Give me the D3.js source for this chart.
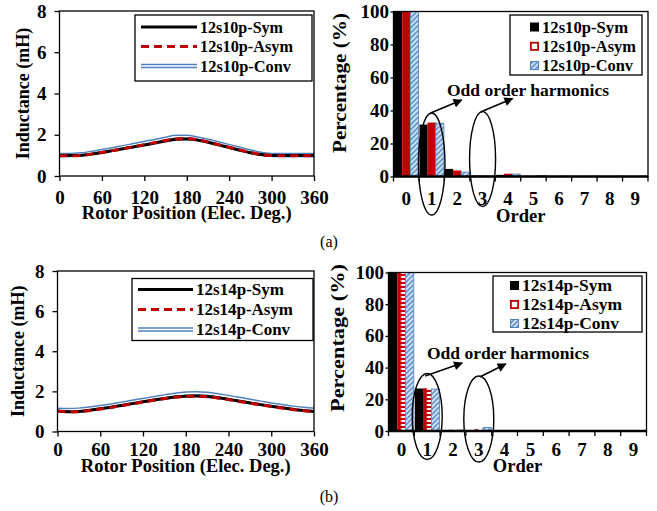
<!DOCTYPE html>
<meta charset="utf-8">
<style>
    body { margin: 0; background: #ffffff; }
    text {
        font-family: "Liberation Serif", "Times New Roman", serif;
        font-weight: bold;
        fill: #000000;
    }
    .tick text { font-size: 19px; }
    .title { font-size: 18.5px; }
    .ytitle { font-size: 18px; }
    .note { font-size: 17.5px; }
    .caption { font-size: 16px; font-weight: normal; }
</style>
<svg width="657" height="511"></svg>
<script src="https://cdn.jsdelivr.net/npm/d3@7"></script>
<script>

    // rotor position (elec. deg.)
    var angles = [0, 15, 30, 45, 60, 75, 90, 105, 120, 135, 150, 165, 180, 195, 210, 225, 240, 255, 270, 285, 300, 315, 330, 345, 360];

    // inductance (mH), 12s10p
    var ind10Sym = [1.00, 1.00, 1.00, 1.06, 1.14, 1.23, 1.32, 1.41, 1.50, 1.60, 1.70, 1.78, 1.80, 1.75, 1.64, 1.51, 1.38, 1.25, 1.13, 1.04, 1.00, 1.00, 1.00, 1.00, 1.00];
    var ind10Asym = [0.98, 0.98, 1.00, 1.06, 1.14, 1.23, 1.32, 1.42, 1.52, 1.62, 1.72, 1.80, 1.82, 1.76, 1.65, 1.52, 1.39, 1.26, 1.14, 1.04, 0.99, 0.98, 0.98, 0.98, 0.98];
    var ind10Conv = [1.02, 1.02, 1.05, 1.12, 1.21, 1.30, 1.40, 1.50, 1.60, 1.70, 1.81, 1.90, 1.90, 1.82, 1.71, 1.58, 1.45, 1.32, 1.19, 1.08, 1.02, 1.02, 1.02, 1.02, 1.02];

    // inductance (mH), 12s14p
    var ind14Sym = [1.02, 0.99, 1.00, 1.06, 1.13, 1.21, 1.30, 1.39, 1.48, 1.57, 1.65, 1.72, 1.76, 1.77, 1.74, 1.68, 1.60, 1.51, 1.42, 1.34, 1.26, 1.18, 1.11, 1.05, 1.00];
    var ind14Asym = [1.01, 0.98, 0.99, 1.05, 1.12, 1.20, 1.29, 1.38, 1.47, 1.56, 1.64, 1.71, 1.75, 1.76, 1.73, 1.67, 1.59, 1.50, 1.41, 1.33, 1.25, 1.17, 1.10, 1.04, 0.99];
    var ind14Conv = [1.08, 1.07, 1.09, 1.15, 1.22, 1.30, 1.39, 1.48, 1.57, 1.66, 1.75, 1.83, 1.89, 1.91, 1.88, 1.81, 1.72, 1.63, 1.53, 1.44, 1.35, 1.27, 1.19, 1.13, 1.08];

    // harmonic order and percentage (%)
    var orders = ["0", "1", "2", "3", "4", "5", "6", "7", "8", "9"];
    var harm10Sym = [100, 31.5, 4.6, 0.6, 1.0, 0.2, 0.1, 0.1, 0.1, 0.1];
    var harm10Asym = [100, 32.7, 3.7, 0.5, 1.7, 0.3, 0.2, 0.2, 0.2, 0.2];
    var harm10Conv = [100, 32.3, 2.7, 0.3, 1.5, 0.5, 0.2, 0.2, 0.2, 0.2];
    var harm14Sym = [100, 26.8, 0.6, 0.6, 0.1, 0.1, 0.1, 0.1, 0.1, 0.1];
    var harm14Asym = [100, 27.0, 0.8, 1.1, 0.2, 0.2, 0.2, 0.2, 0.2, 0.2];
    var harm14Conv = [100, 26.5, 0.6, 2.2, 0.1, 0.1, 0.1, 0.1, 0.1, 0.1];

    var xTicks = [0, 60, 120, 180, 240, 300, 360];
    var yTicksL = [0, 2, 4, 6, 8];
    var yTicksP = [0, 20, 40, 60, 80, 100];
    var kinds = ["Sym", "Asym", "Conv"];

    var RED = "#c00000", BLUE = "#4f81bd";

    var svg = d3.select("svg");
    var defs = svg.append("defs");

    // arrow head
    defs.append("marker")
        .attr("id", "arrow")
        .attr("viewBox", "0 0 10 10")
        .attr("refX", 9).attr("refY", 5)
        .attr("markerWidth", 11).attr("markerHeight", 9)
        .attr("markerUnits", "userSpaceOnUse")
        .attr("orient", "auto")
        .append("path").attr("d", "M0,0 L10,5 L0,10 z").attr("fill", "#000");

    // diagonal hatch for Conv
    var hatch = defs.append("pattern")
        .attr("id", "hatch")
        .attr("patternUnits", "userSpaceOnUse")
        .attr("width", 3.6).attr("height", 3.6)
        .attr("patternTransform", "rotate(45)");
    hatch.append("rect").attr("width", 3.6).attr("height", 3.6).attr("fill", "#6a98d4");
    hatch.append("line").attr("x1", 0.9).attr("x2", 0.9).attr("y1", 0).attr("y2", 3.6)
        .attr("stroke", "#ffffff").attr("stroke-width", 1.3);

    function styleAxis(g) {
        g.attr("font-family", null).attr("font-size", null);
        g.selectAll("line").attr("stroke", "#000").attr("stroke-width", 1.3);
        g.select(".domain").remove();
    }

    // legend label, held to the width
    function legendText(lg, x, y, size, len, label) {
        lg.append("text").attr("x", x).attr("y", y)
            .style("font-size", size + "px")
            .attr("textLength", len).attr("lengthAdjust", "spacingAndGlyphs")
            .text(label);
    }

    function drawLineChart(o) {
        var x = d3.scaleLinear().domain([0, 360]).range([o.left, o.right]);
        var y = d3.scaleLinear().domain([0, 8]).range([o.bottom, o.top]);
        var g = svg.append("g");

        var line = d3.line()
            .x(function (d, i) { return x(angles[i]); })
            .y(function (d) { return y(d); })
            .curve(d3.curveMonotoneX);

        g.append("path").attr("d", line(o.conv)).attr("fill", "none")
            .attr("stroke", BLUE).attr("stroke-width", 4.5);
        g.append("path").attr("d", line(o.conv)).attr("fill", "none")
            .attr("stroke", "#fff").attr("stroke-width", 1.6);
        g.append("path").attr("d", line(o.sym)).attr("fill", "none")
            .attr("stroke", "#000").attr("stroke-width", 3);
        g.append("path").attr("d", line(o.asym)).attr("fill", "none")
            .attr("stroke", RED).attr("stroke-width", 3).attr("stroke-dasharray", "8,5");

        g.append("rect")
            .attr("x", o.left).attr("y", o.top)
            .attr("width", o.right - o.left).attr("height", o.bottom - o.top)
            .attr("fill", "none").attr("stroke", "#000").attr("stroke-width", 1.3);

        g.append("g").attr("transform", "translate(0," + o.bottom + ")")
            .call(d3.axisBottom(x).tickValues(xTicks).tickSize(5).tickPadding(o.tp))
            .call(styleAxis);
        g.append("g").attr("transform", "translate(" + o.left + ",0)")
            .call(d3.axisLeft(y).tickValues(yTicksL).tickSize(5).tickPadding(8))
            .call(styleAxis);

        g.append("text").attr("class", "title")
            .attr("x", (o.left + o.right) / 2).attr("y", o.bottom + o.xty)
            .attr("text-anchor", "middle")
            .text("Rotor Position (Elec. Deg.)");
        g.append("text").attr("class", "ytitle")
            .attr("transform", "translate(" + o.ytx + "," + (o.top + o.bottom) / 2 + ") rotate(-90)")
            .attr("text-anchor", "middle")
            .text("Inductance (mH)");

        // legend
        var lg = g.append("g");
        var b = o.legend;
        lg.append("rect").attr("x", b.x).attr("y", b.y).attr("width", b.w).attr("height", b.h)
            .attr("fill", "#fff").attr("stroke", "#000").attr("stroke-width", 1.3);
        kinds.forEach(function (k, i) {
            var yy = b.y + b.r0 + i * b.dy;
            var x1 = b.x + 6, x2 = b.x + b.lw;
            if (k === "Conv") {
                lg.append("line").attr("x1", x1).attr("x2", x2).attr("y1", yy).attr("y2", yy)
                    .attr("stroke", BLUE).attr("stroke-width", 4.5);
                lg.append("line").attr("x1", x1).attr("x2", x2).attr("y1", yy).attr("y2", yy)
                    .attr("stroke", "#fff").attr("stroke-width", 1.6);
            } else {
                lg.append("line").attr("x1", x1).attr("x2", x2).attr("y1", yy).attr("y2", yy)
                    .attr("stroke", k === "Sym" ? "#000" : RED).attr("stroke-width", 3)
                    .attr("stroke-dasharray", k === "Asym" ? "8,5" : null);
            }
            legendText(lg, x2 + 3, yy + 5.5, b.fs, b.tl[i], o.name + "-" + k);
        });
    }

    function drawBarChart(o) {
        var x0 = d3.scaleBand().domain(orders).range([o.left, o.right])
            .paddingInner(0.04).paddingOuter(0.02);
        var x1 = d3.scaleBand().domain(kinds).range([0, x0.bandwidth()]);
        var y = d3.scaleLinear().domain([0, 100]).range([o.bottom, o.top]);
        var g = svg.append("g");
        var half = x0.step() * x0.paddingInner() / 2;

        // striped fill for Asym, one tile per category band
        var pid = "stripe" + o.name;
        var pat = defs.append("pattern")
            .attr("id", pid)
            .attr("patternUnits", "userSpaceOnUse")
            .attr("x", o.left).attr("y", o.bottom)
            .attr("width", x0.step()).attr("height", 4);
        pat.append("rect").attr("width", x0.step()).attr("height", 4).attr("fill", RED);
        pat.append("rect")
            .attr("x", half + x1("Asym") + 1.8).attr("y", 1)
            .attr("width", x1.bandwidth() - 3.6).attr("height", 2)
            .attr("fill", "#fff");

        var rows = orders.map(function (d, i) {
            return { order: d, Sym: o.sym[i], Asym: o.asym[i], Conv: o.conv[i] };
        });

        var grp = g.selectAll(".grp").data(rows).enter().append("g")
            .attr("transform", function (d) { return "translate(" + x0(d.order) + ",0)"; });

        grp.selectAll("rect")
            .data(function (d) { return kinds.map(function (k) { return { k: k, v: d[k] }; }); })
            .enter().append("rect")
            .attr("x", function (d) { return x1(d.k); })
            .attr("y", function (d) { return y(d.v); })
            .attr("width", x1.bandwidth())
            .attr("height", function (d) { return o.bottom - y(d.v); })
            .attr("fill", function (d) {
                return d.k === "Sym" ? "#000" : d.k === "Asym" ? "url(#" + pid + ")" : "url(#hatch)";
            })
            .attr("stroke", function (d) { return d.k === "Conv" ? BLUE : "none"; })
            .attr("stroke-width", 0.8);

        // frame
        g.append("rect")
            .attr("x", o.left).attr("y", o.top)
            .attr("width", o.right - o.left).attr("height", o.bottom - o.top)
            .attr("fill", "none").attr("stroke", "#000").attr("stroke-width", 1.3);
        g.append("line").attr("x1", o.left).attr("x2", o.right)
            .attr("y1", o.bottom).attr("y2", o.bottom)
            .attr("stroke", "#000").attr("stroke-width", 2.4);

        // category boundary ticks
        var bounds = orders.map(function (d) { return x0(d) - half; }).concat([o.right]);
        g.selectAll(".btick").data(bounds).enter().append("line")
            .attr("x1", function (d) { return d; }).attr("x2", function (d) { return d; })
            .attr("y1", o.bottom).attr("y2", o.bottom + 5)
            .attr("stroke", "#000").attr("stroke-width", 1.3);

        g.append("g").attr("transform", "translate(0," + o.bottom + ")")
            .call(d3.axisBottom(x0).tickSize(0).tickPadding(o.tp))
            .call(styleAxis);
        g.append("g").attr("transform", "translate(" + o.left + ",0)")
            .call(d3.axisLeft(y).tickValues(yTicksP).tickSize(3).tickPadding(1.5))
            .call(styleAxis);

        g.append("text").attr("class", "title")
            .attr("x", (o.left + o.right) / 2).attr("y", o.bottom + o.xty)
            .attr("text-anchor", "middle").text("Order");
        g.append("text").attr("class", "ytitle")
            .attr("transform", "translate(" + o.ytx + "," + o.ytc + ") rotate(-90)")
            .attr("text-anchor", "middle")
            .attr("textLength", o.ytl).attr("lengthAdjust", "spacingAndGlyphs")
            .text("Percentage (%)");

        // legend
        var lg = g.append("g");
        var b = o.legend;
        lg.append("rect").attr("x", b.x).attr("y", b.y).attr("width", b.w).attr("height", b.h)
            .attr("fill", "#fff").attr("stroke", "#000").attr("stroke-width", 1.3);
        kinds.forEach(function (k, i) {
            var yy = b.y + b.r0 + i * b.dy;
            var sx = b.x + b.sx;
            if (k === "Sym") {
                lg.append("rect").attr("x", sx).attr("y", yy - 4.5).attr("width", 9).attr("height", 9).attr("fill", "#000");
            } else if (k === "Asym") {
                lg.append("rect").attr("x", sx + 0.9).attr("y", yy - 3.6).attr("width", 7.2).attr("height", 7.2)
                    .attr("fill", "#fff").attr("stroke", RED).attr("stroke-width", 1.8);
            } else {
                lg.append("rect").attr("x", sx + 0.5).attr("y", yy - 4).attr("width", 8).attr("height", 8)
                    .attr("fill", "url(#hatch)").attr("stroke", BLUE).attr("stroke-width", 1);
            }
            legendText(lg, sx + 12, yy + 5.5, b.fs, b.tl[i], o.name + "-" + k);
        });

        // annotation
        g.append("text").attr("class", "note")
            .attr("x", o.note[0]).attr("y", o.note[1]).text("Odd order harmonics");
        o.rings.forEach(function (r) {
            var cx = x0(r.order) + x0.bandwidth() / 2;
            g.append("ellipse").attr("cx", cx).attr("cy", r.cy).attr("rx", r.rx).attr("ry", r.ry)
                .attr("fill", "none").attr("stroke", "#000").attr("stroke-width", 1.4);
            g.append("line")
                .attr("x1", cx + r.a[0]).attr("y1", r.a[1])
                .attr("x2", cx + r.a[2]).attr("y2", r.a[3])
                .attr("stroke", "#000").attr("stroke-width", 1.5)
                .attr("marker-end", "url(#arrow)");
        });
    }

    drawLineChart({
        name: "12s10p", left: 59.5, right: 314, top: 11, bottom: 176, ytx: 28.5, xty: 43, tp: 10,
        sym: ind10Sym, asym: ind10Asym, conv: ind10Conv,
        legend: { x: 135, y: 15, w: 177, h: 66, r0: 12, dy: 19.5, lw: 62, fs: 16, tl: [83, 93, 91] }
    });
    drawLineChart({
        name: "12s14p", left: 57.5, right: 314, top: 271, bottom: 431.5, ytx: 23.5, xty: 40.5, tp: 6.5,
        sym: ind14Sym, asym: ind14Asym, conv: ind14Conv,
        legend: { x: 132, y: 278.5, w: 181, h: 62, r0: 11, dy: 20, lw: 61, fs: 17, tl: [88, 97, 94] }
    });
    drawBarChart({
        name: "12s10p", left: 393.5, right: 648, top: 11.5, bottom: 176.5,
        ytx: 346, ytc: 83, ytl: 140, xty: 45, tp: 15,
        sym: harm10Sym, asym: harm10Asym, conv: harm10Conv,
        legend: { x: 510, y: 15, w: 132, h: 60, sx: 20, r0: 12, dy: 19.3, fs: 16, tl: [86, 94, 91] },
        note: [447, 96],
        rings: [
            { order: "1", cy: 164, rx: 13.3, ry: 51, a: [-1, 113, 30, 100] },
            { order: "3", cy: 159, rx: 13, ry: 47.5, a: [-2, 112, 30, 98.5] }
        ]
    });
    drawBarChart({
        name: "12s14p", left: 388.5, right: 646.5, top: 272.5, bottom: 431,
        ytx: 343.5, ytc: 338, ytl: 148, xty: 41, tp: 12,
        sym: harm14Sym, asym: harm14Asym, conv: harm14Conv,
        legend: { x: 493, y: 276, w: 149, h: 56, sx: 17, r0: 9.5, dy: 19, fs: 17, tl: [90, 100, 97] },
        note: [427, 359],
        rings: [
            { order: "1", cy: 416.5, rx: 15, ry: 43, a: [-2, 376, 35, 363] },
            { order: "3", cy: 419, rx: 15, ry: 43, a: [1, 377, 27, 364] }
        ]
    });

    svg.append("text").attr("class", "caption").attr("x", 329).attr("y", 247)
        .attr("text-anchor", "middle").text("(a)");
    svg.append("text").attr("class", "caption").attr("x", 329).attr("y", 502)
        .attr("text-anchor", "middle").text("(b)");
</script>
